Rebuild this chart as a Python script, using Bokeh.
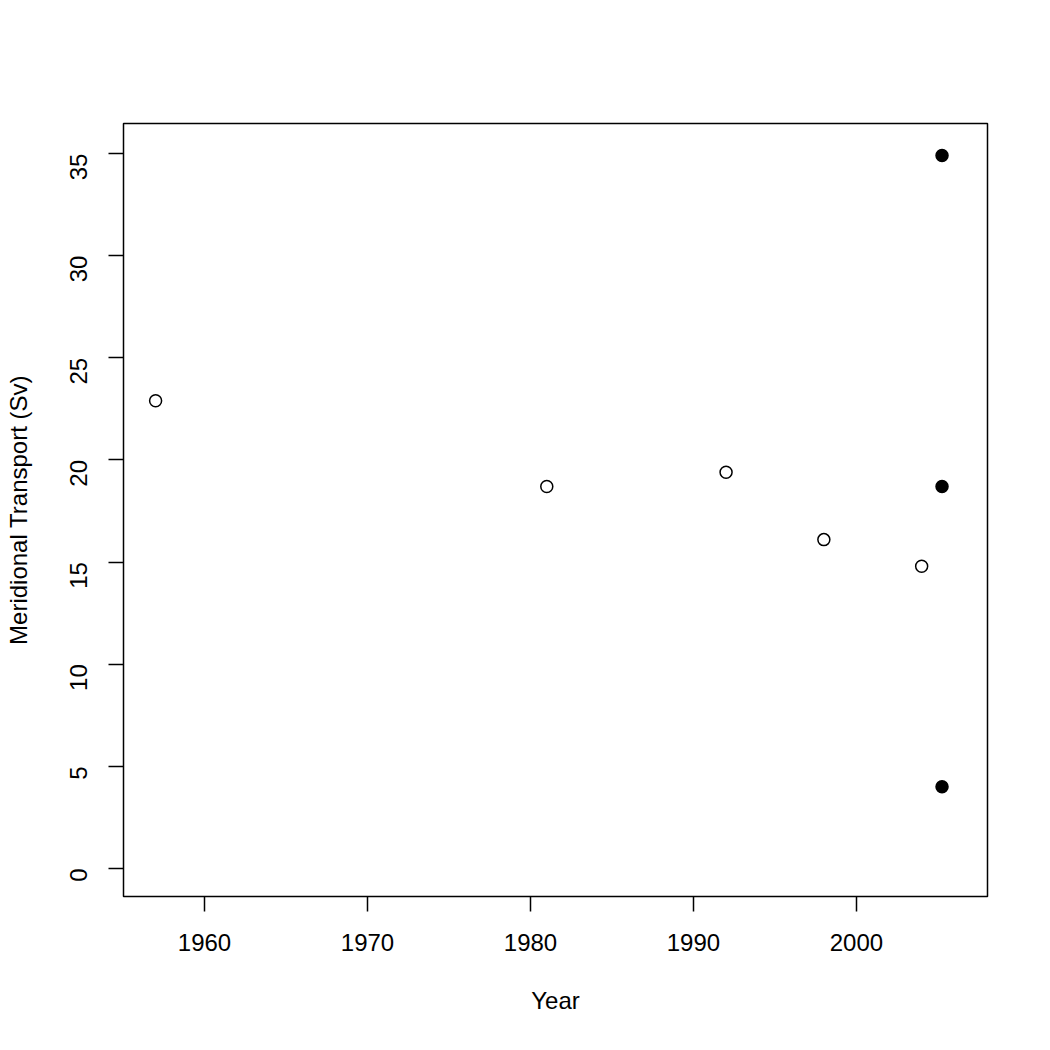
import math
from bokeh.plotting import figure
from bokeh.models import Range1d, FixedTicker
from bokeh.embed import file_html
from bokeh.resources import INLINE

# Data
years_open = [1957, 1981, 1992, 1998, 2004]
transport_open = [22.9, 18.7, 19.4, 16.1, 14.8]
years_filled = [2005.25, 2005.25, 2005.25]
transport_filled = [34.9, 18.7, 4.0]

x_ticks = [1960, 1970, 1980, 1990, 2000]
y_ticks = [0, 5, 10, 15, 20, 25, 30, 35]

FONT = "Liberation Sans"

p = figure(frame_width=864, frame_height=773, output_backend="svg", toolbar_location=None,
           x_range=Range1d(1955.03, 2008.04), y_range=Range1d(-1.37, 36.47),
           min_border_left=123, min_border_right=47, min_border_top=123,
           min_border_bottom=138)

p.background_fill_color = "white"
p.border_fill_color = "white"
p.outline_line_color = "black"
p.outline_line_width = 1.5
p.xgrid.visible = False
p.ygrid.visible = False

p.scatter(years_open, transport_open, marker="circle", size=12,
          fill_color="white", line_color="black", line_width=1.5)
p.scatter(years_filled, transport_filled, marker="circle", size=12,
          fill_color="black", line_color="black", line_width=1.5)

for ax in (p.xaxis[0], p.yaxis[0]):
    ax.axis_line_alpha = 0
    ax.major_tick_in = 0
    ax.major_tick_out = 15
    ax.major_tick_line_width = 1.5
    ax.major_tick_line_color = "black"
    ax.minor_tick_line_color = None
    ax.major_label_text_font = FONT
    ax.major_label_text_font_size = "24px"
    ax.major_label_text_color = "black"
    ax.axis_label_text_font = FONT
    ax.axis_label_text_font_size = "24px"
    ax.axis_label_text_font_style = "normal"
    ax.axis_label_text_color = "black"

p.xaxis[0].ticker = FixedTicker(ticks=x_ticks)
p.yaxis[0].ticker = FixedTicker(ticks=y_ticks)
p.xaxis[0].axis_label = "Year"
p.yaxis[0].axis_label = "Meridional Transport (Sv)"
p.xaxis[0].major_label_standoff = 22
p.xaxis[0].axis_label_standoff = 33
p.yaxis[0].major_label_orientation = math.pi / 2
p.yaxis[0].major_label_standoff = 30
p.yaxis[0].axis_label_standoff = 27

open("out.html", "w").write(file_html(p, INLINE))
